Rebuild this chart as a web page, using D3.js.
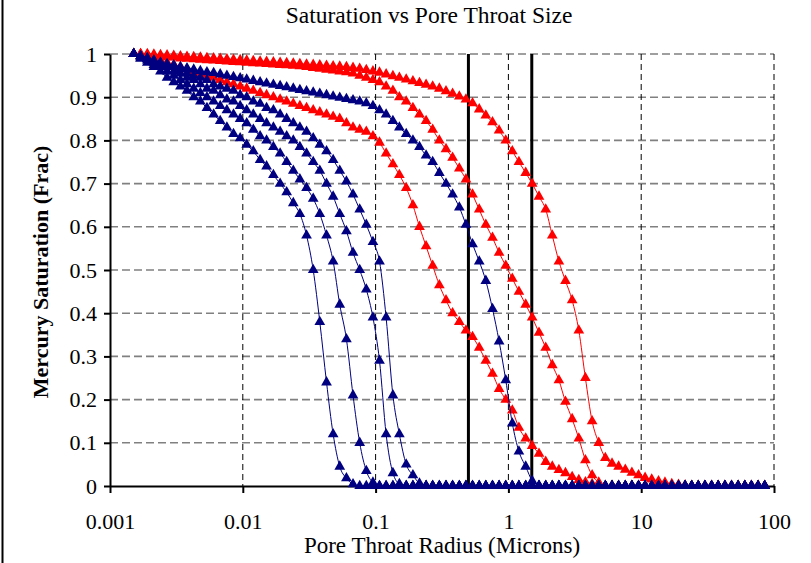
<!DOCTYPE html>
<html><head><meta charset="utf-8">
<script src="https://cdn.jsdelivr.net/npm/d3@7"></script>
<style>
body{margin:0;background:#fff;}
svg{display:block;}
text{font-family:"Liberation Serif","Times New Roman",serif;fill:#000;}
</style></head><body>
<svg id="chart" width="811" height="563"></svg>
<script>
const chartTitle = "Saturation vs Pore Throat Size";
const xTitle = "Pore Throat Radius (Microns)";
const yTitle = "Mercury Saturation (Frac)";
const xTicks = [0.001, 0.01, 0.1, 1, 10, 100];
const xTickLabels = ["0.001", "0.01", "0.1", "1", "10", "100"];
const yTicks = [0, 0.1, 0.2, 0.3, 0.4, 0.5, 0.6, 0.7, 0.8, 0.9, 1];
const yTickLabels = ["0", "0.1", "0.2", "0.3", "0.4", "0.5", "0.6", "0.7", "0.8", "0.9", "1"];
const cutoffRadii = [0.5, 1.5];

// pore throat radius (microns) of each pressure step, shared by all samples
const radius = [
0.00151,0.00170,0.00191,0.00214,0.00240,0.00269,0.00302,0.00339,0.00380,0.00427,
0.00479,0.00537,0.00603,0.00676,0.00759,0.00851,0.00955,0.0107,0.0120,0.0135,
0.0151,0.0170,0.0191,0.0214,0.0240,0.0269,0.0302,0.0339,0.0380,0.0427,
0.0479,0.0537,0.0603,0.0676,0.0759,0.0851,0.0955,0.107,0.120,0.135,
0.151,0.170,0.191,0.214,0.240,0.269,0.302,0.339,0.380,0.427,
0.479,0.537,0.603,0.676,0.759,0.851,0.955,1.07,1.20,1.35,
1.51,1.70,1.91,2.14,2.40,2.69,3.02,3.39,3.80,4.27,
4.79,5.37,6.03,6.76,7.59,8.51,9.55,10.7,12.0,13.5,
15.1,17.0,19.1,21.4,24.0,26.9,30.2,33.9,38.0,42.7,
47.9,53.7,60.3,67.6,75.9,85.1];

const red1 = [
1.0,0.995,0.99,0.99,0.985,0.98,0.975,0.97,0.965,0.96,
0.955,0.95,0.945,0.94,0.935,0.93,0.925,0.92,0.915,0.91,
0.905,0.90,0.895,0.89,0.885,0.88,0.875,0.87,0.865,0.86,
0.855,0.85,0.84,0.83,0.825,0.82,0.81,0.795,0.77,0.745,
0.72,0.69,0.65,0.60,0.555,0.51,0.465,0.43,0.40,0.38,
0.36,0.345,0.32,0.29,0.26,0.225,0.20,0.175,0.135,0.11,
0.093,0.075,0.056,0.045,0.037,0.03,0.021,0.014,0.009,0.005,
0.002,0,0,0,0,0,0,0,0,0,
0,0,0,0,0,0,0,0,0,0,
0,0,0,0,0,0];
const red2 = [
1.0,1.0,0.998,0.996,0.995,0.993,0.992,0.99,0.989,0.988,
0.987,0.986,0.985,0.984,0.983,0.982,0.981,0.98,0.979,0.978,
0.977,0.976,0.975,0.974,0.973,0.972,0.97,0.968,0.966,0.964,
0.962,0.96,0.958,0.955,0.95,0.945,0.94,0.935,0.925,0.915,
0.90,0.89,0.875,0.86,0.845,0.825,0.80,0.78,0.76,0.735,
0.71,0.675,0.64,0.605,0.575,0.54,0.51,0.48,0.45,0.42,
0.39,0.355,0.32,0.28,0.245,0.195,0.155,0.11,0.06,0.025,
0.008,0,0,0,0,0,0,0,0,0,
0,0,0,0,0,0,0,0,0,0,
0,0,0,0,0,0];
const red3 = [
1.0,1.0,1.0,0.999,0.998,0.997,0.996,0.995,0.994,0.993,
0.992,0.991,0.99,0.989,0.988,0.987,0.986,0.985,0.984,0.983,
0.982,0.981,0.98,0.979,0.978,0.977,0.976,0.975,0.974,0.973,
0.972,0.971,0.97,0.968,0.966,0.963,0.96,0.957,0.953,0.949,
0.945,0.941,0.937,0.933,0.929,0.925,0.92,0.914,0.908,0.902,
0.895,0.886,0.872,0.858,0.842,0.823,0.80,0.775,0.75,0.725,
0.70,0.67,0.64,0.58,0.52,0.475,0.43,0.36,0.25,0.15,
0.10,0.065,0.052,0.045,0.038,0.031,0.025,0.019,0.015,0.011,
0.008,0.005,0.003,0.001,0,0,0,0,0,0,
0,0,0,0,0,0];
const blue1 = [
1.0,0.99,0.98,0.97,0.96,0.945,0.935,0.925,0.915,0.90,
0.89,0.875,0.86,0.845,0.83,0.815,0.805,0.79,0.775,0.755,
0.74,0.72,0.70,0.68,0.655,0.63,0.58,0.50,0.38,0.24,
0.12,0.045,0.018,0.004,0,0,0,0,0,0,
0,0,0,0,0,0,0,0,0,0,
0,0,0,0,0,0,0,0,0,0,
0,0,0,0,0,0,0,0,0,0,
0,0,0,0,0,0,0,0,0,0,
0,0,0,0,0,0,0,0,0,0,
0,0,0,0,0,0];
const blue2 = [
1.0,0.99,0.985,0.975,0.97,0.96,0.95,0.94,0.93,0.92,
0.91,0.90,0.89,0.88,0.87,0.86,0.85,0.84,0.825,0.81,
0.80,0.785,0.77,0.75,0.73,0.71,0.69,0.665,0.63,0.58,
0.52,0.42,0.34,0.21,0.10,0.035,0.008,0,0,0,
0,0,0,0,0,0,0,0,0,0,
0,0,0,0,0,0,0,0,0,0,
0,0,0,0,0,0,0,0,0,0,
0,0,0,0,0,0,0,0,0,0,
0,0,0,0,0,0,0,0,0,0,
0,0,0,0,0,0];
const blue3 = [
1.0,0.995,0.99,0.98,0.975,0.97,0.96,0.955,0.945,0.94,
0.93,0.92,0.915,0.905,0.895,0.89,0.88,0.87,0.86,0.85,
0.84,0.83,0.82,0.81,0.80,0.785,0.77,0.75,0.73,0.70,
0.67,0.63,0.59,0.54,0.50,0.455,0.39,0.29,0.12,0.03,
0.005,0,0,0,0,0,0,0,0,0,
0,0,0,0,0,0,0,0,0,0,
0,0,0,0,0,0,0,0,0,0,
0,0,0,0,0,0,0,0,0,0,
0,0,0,0,0,0,0,0,0,0,
0,0,0,0,0,0];
const blue4 = [
1.0,0.995,0.99,0.985,0.98,0.975,0.97,0.965,0.955,0.95,
0.945,0.94,0.93,0.925,0.92,0.915,0.905,0.90,0.89,0.885,
0.875,0.87,0.86,0.85,0.84,0.83,0.82,0.805,0.79,0.775,
0.755,0.73,0.705,0.675,0.64,0.605,0.565,0.52,0.39,0.21,
0.12,0.05,0.025,0.006,0,0,0,0,0,0,
0,0,0,0,0,0,0,0,0,0,
0,0,0,0,0,0,0,0,0,0,
0,0,0,0,0,0,0,0,0,0,
0,0,0,0,0,0,0,0,0,0,
0,0,0,0,0,0];
const blue5 = [
1.0,0.995,0.99,0.985,0.98,0.977,0.974,0.97,0.967,0.964,
0.961,0.958,0.956,0.953,0.95,0.947,0.944,0.941,0.938,0.935,
0.932,0.929,0.926,0.923,0.92,0.917,0.914,0.911,0.908,0.905,
0.902,0.899,0.896,0.893,0.89,0.886,0.88,0.87,0.86,0.845,
0.83,0.815,0.80,0.785,0.765,0.75,0.725,0.70,0.675,0.645,
0.605,0.56,0.52,0.475,0.41,0.335,0.245,0.145,0.08,0.045,
0.012,0,0,0,0,0,0,0,0,0,
0,0,0,0,0,0,0,0,0,0,
0,0,0,0,0,0,0,0,0,0,
0,0,0,0,0,0];

const seriesList = [
  {values: red1, color: "#ff0000"},
  {values: red2, color: "#ff0000"},
  {values: red3, color: "#ff0000"},
  {values: blue1, color: "#000080"},
  {values: blue2, color: "#000080"},
  {values: blue3, color: "#000080"},
  {values: blue4, color: "#000080"},
  {values: blue5, color: "#000080"}
];

const svg = d3.select("#chart");
const L = 110, R = 774, T = 54, B = 486;
const x = d3.scaleLog().domain([0.001, 100]).range([L, R]);
const y = d3.scaleLinear().domain([0, 1]).range([B, T]);

// outer left frame line
svg.append("line").attr("x1", 2.5).attr("x2", 2.5).attr("y1", 0).attr("y2", 563)
  .attr("stroke", "#000").attr("stroke-width", 2);

// horizontal grid
svg.append("g").selectAll("line").data(yTicks.filter(d => d > 0)).join("line")
  .attr("x1", L).attr("x2", R).attr("y1", d => y(d)).attr("y2", d => y(d))
  .attr("stroke", "#808080").attr("stroke-width", 1.6).attr("stroke-dasharray", "8,4");
// vertical grid
svg.append("g").selectAll("line").data(xTicks.filter(d => d > 0.001)).join("line")
  .attr("x1", d => x(d)).attr("x2", d => x(d)).attr("y1", T).attr("y2", B)
  .attr("stroke", "#000").attr("stroke-width", 1).attr("stroke-dasharray", "6,4");

// axes
const yAxis = d3.axisLeft(y).tickValues(yTicks).tickFormat((d, i) => yTickLabels[i])
  .tickSize(6).tickSizeOuter(0).tickPadding(7);
const gy = svg.append("g").attr("transform", `translate(${L},0)`).call(yAxis);
const xAxis = d3.axisBottom(x).tickValues(xTicks).tickFormat((d, i) => xTickLabels[i])
  .tickSize(7).tickSizeOuter(0).tickPadding(20);
const gx = svg.append("g").attr("transform", `translate(0,${B})`).call(xAxis);
[gx, gy].forEach(g => {
  g.selectAll("path.domain").attr("stroke", "#000").attr("stroke-width", 2);
  g.selectAll(".tick line").attr("stroke", "#000").attr("stroke-width", 2);
  g.selectAll("text").style("font-family", '"Liberation Serif", serif').style("font-size", "22px").attr("fill", "#000");
});

// cutoff lines
svg.append("g").selectAll("line").data(cutoffRadii).join("line")
  .attr("x1", d => x(d)).attr("x2", d => x(d)).attr("y1", T).attr("y2", B)
  .attr("stroke", "#000").attr("stroke-width", 3);

// series
const line = d3.line().x(d => x(d[0])).y(d => y(d[1])).curve(d3.curveMonotoneX);
const tri = d3.symbol().type(d3.symbolTriangle).size(50);
seriesList.forEach(s => {
  if (s.values.length !== radius.length) console.error("length mismatch", s.values.length);
  const pts = d3.zip(radius, s.values);
  const g = svg.append("g");
  g.append("path").datum(pts).attr("d", line).attr("fill", "none")
    .attr("stroke", s.color).attr("stroke-width", 1);
  g.selectAll("path.m").data(pts).join("path").attr("class", "m")
    .attr("transform", d => `translate(${x(d[0])},${y(d[1])})`)
    .attr("d", tri).attr("fill", s.color);
});

// titles
svg.append("text").attr("x", 429).attr("y", 23).attr("text-anchor", "middle")
  .style("font-size", "23.5px").text(chartTitle);
svg.append("text").attr("x", 442).attr("y", 553).attr("text-anchor", "middle")
  .style("font-size", "23px").text(xTitle);
svg.append("text").attr("transform", "translate(48,272) rotate(-90)").attr("text-anchor", "middle")
  .style("font-size", "22px").style("font-weight", "bold").text(yTitle);
</script>
</body></html>
